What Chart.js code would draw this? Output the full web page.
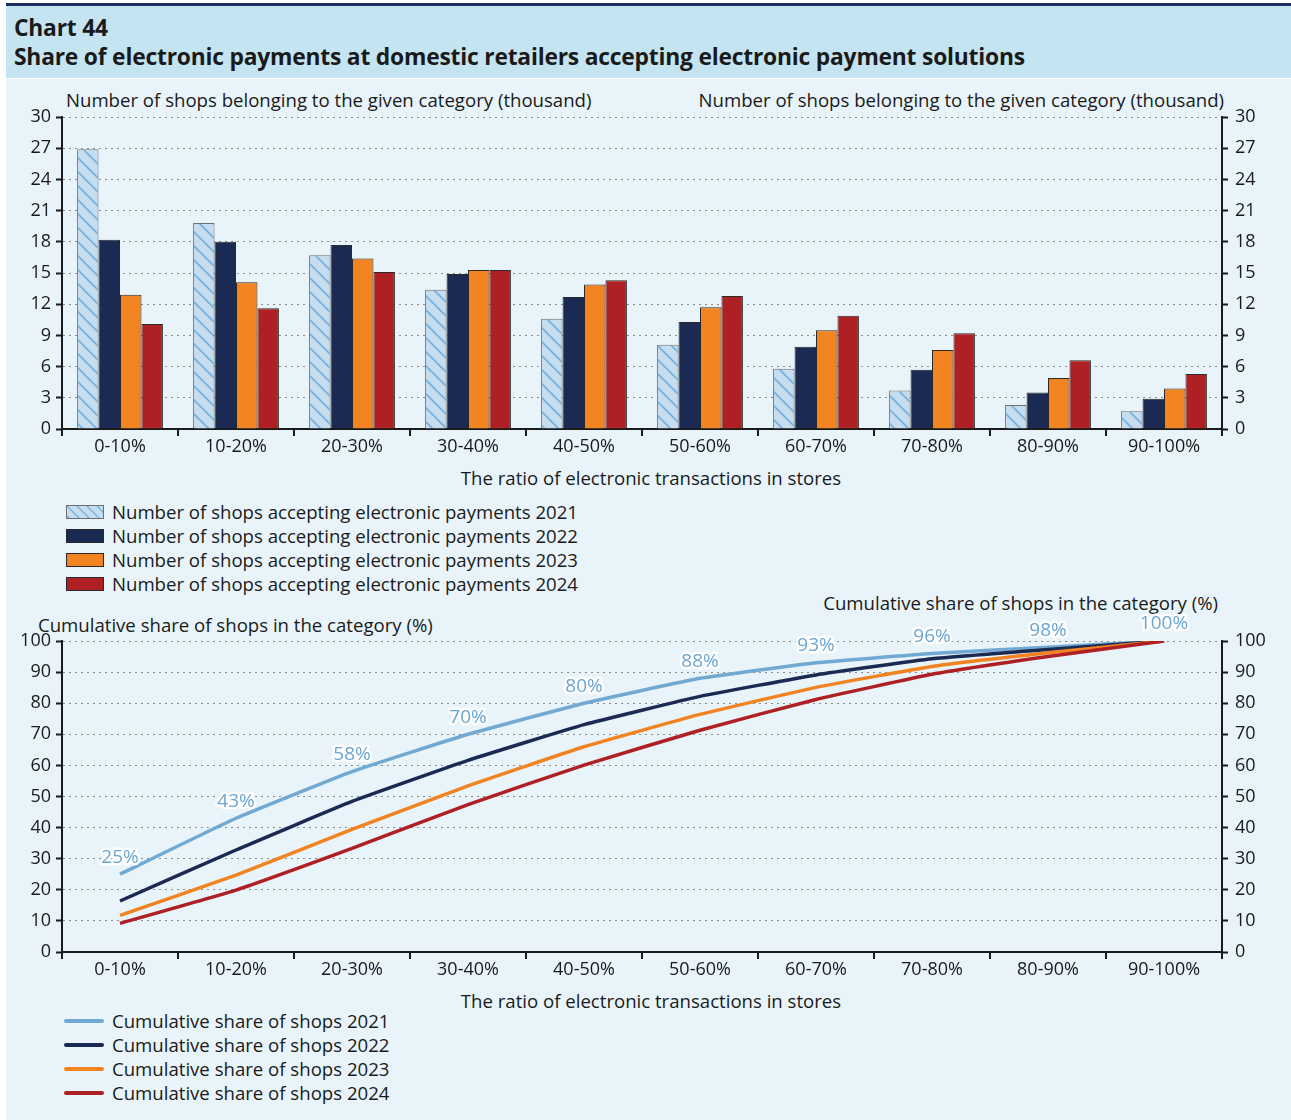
<!DOCTYPE html>
<html><head><meta charset="utf-8">
<script src="https://cdn.jsdelivr.net/npm/chart.js@4.4.1/dist/chart.umd.min.js"></script>
<style>
html,body{margin:0;padding:0;background:#fff;}
body{width:1291px;height:1120px;position:relative;overflow:hidden;font-family:'Open Sans',sans-serif;color:#1a1a1a;}
#topline{position:absolute;left:6px;top:3px;width:1285px;height:3px;background:#1c2f5e;}
#header{position:absolute;left:6px;top:6px;width:1285px;height:72px;background:#c5e4f2;}
#body{position:absolute;left:6px;top:79px;width:1285px;height:1041px;background:#e8f4fa;}
.t{position:absolute;white-space:nowrap;line-height:24px;height:24px;font-size:18.6px;}
.h{font-weight:bold;font-size:22.8px;color:#1a1a1a;letter-spacing:-0.2px;}
canvas.c{position:absolute;left:0;}
.lg{position:absolute;}
</style></head>
<body>
<div id="topline"></div><div id="header"></div><div id="body"></div>
<div class="t h" style="left:14px;top:16px;">Chart 44</div>
<div class="t h" style="left:14px;top:45px;">Share of electronic payments at domestic retailers accepting electronic payment solutions</div>

<div class="t" style="left:66px;top:88px;">Number of shops belonging to the given category (thousand)</div>
<div class="t" style="right:67px;top:88px;">Number of shops belonging to the given category (thousand)</div>
<div class="t" style="left:0;width:1302px;text-align:center;top:466px;">The ratio of electronic transactions in stores</div>

<div class="t" style="left:38px;top:613px;">Cumulative share of shops in the category (%)</div>
<div class="t" style="right:73px;top:591px;">Cumulative share of shops in the category (%)</div>
<div class="t" style="left:0;width:1302px;text-align:center;top:989px;">The ratio of electronic transactions in stores</div>

<div id="legend1"></div>
<div id="legend2"></div>

<canvas id="c1" class="c" width="1291" height="420" style="top:80px;"></canvas>
<canvas id="c2" class="c" width="1291" height="430" style="top:590px;"></canvas>

<script>
// ---- data ----
const categories = ['0-10%','10-20%','20-30%','30-40%','40-50%','50-60%','60-70%','70-80%','80-90%','90-100%'];
const shops2021 = [26.9, 19.8, 16.7, 13.4, 10.6, 8.1, 5.8, 3.7, 2.3, 1.7];
const shops2022 = [18.2, 18.0, 17.7, 14.9, 12.7, 10.3, 7.9, 5.7, 3.5, 2.9];
const shops2023 = [12.9, 14.1, 16.4, 15.3, 13.9, 11.7, 9.5, 7.6, 4.9, 3.9];
const shops2024 = [10.1, 11.6, 15.1, 15.3, 14.3, 12.8, 10.9, 9.2, 6.6, 5.3];
const cum2021 = [25, 43, 58, 70, 80, 88, 93, 96, 98, 100];
const cum2022 = [16.4, 32.8, 48.4, 61.6, 73.1, 82.2, 89.1, 94.3, 97.3, 100];
const cum2023 = [11.8, 24.7, 39.4, 53.4, 66.0, 76.4, 85.1, 91.8, 96.2, 100];
const cum2024 = [9.2, 19.9, 33.3, 47.4, 60.1, 71.3, 81.2, 89.3, 95.0, 100];
const barLabels = ['Number of shops accepting electronic payments 2021','Number of shops accepting electronic payments 2022','Number of shops accepting electronic payments 2023','Number of shops accepting electronic payments 2024'];
const lineLabels = ['Cumulative share of shops 2021','Cumulative share of shops 2022','Cumulative share of shops 2023','Cumulative share of shops 2024'];

// ---- styles ----
const FONT = "'Open Sans'";
const TXT = '#1a1a1a';
const C_NAVY = '#1b2a52', C_ORANGE = '#f28321', C_RED = '#ae2024', C_LBLUE = '#72a9d2';

function makeHatch(g, size, lw){
  const p = document.createElement('canvas'); p.width = size; p.height = size;
  const h = p.getContext('2d');
  h.fillStyle = '#c6dcef'; h.fillRect(0,0,size,size);
  h.strokeStyle = '#74b0db'; h.lineWidth = lw;
  h.beginPath();
  h.moveTo(-2,-2); h.lineTo(size+2,size+2);
  h.moveTo(-2,size-2); h.lineTo(2,size+2);
  h.moveTo(size-2,-2); h.lineTo(size+2,2);
  h.stroke();
  return (g || h).createPattern(p,'repeat');
}
const hatch = makeHatch(null, 14, 1.6);

// ---- legends (HTML) ----
const barColors = [null, C_NAVY, C_ORANGE, C_RED];
const lg1 = document.getElementById('legend1');
barLabels.forEach((lab,i)=>{
  const cy = 512 + 24*i;
  const cv = document.createElement('canvas'); cv.width = 38; cv.height = 14;
  cv.className='lg'; cv.style.left='66px'; cv.style.top=(cy-7)+'px';
  const g = cv.getContext('2d');
  g.fillStyle = i===0 ? makeHatch(g, 10, 1.3) : barColors[i];
  g.fillRect(0,0,38,14);
  g.strokeStyle = i===0 ? '#6f6f6f' : '#2a2a2a'; g.lineWidth=1;
  g.strokeRect(0.5,0.5,37,13);
  lg1.appendChild(cv);
  const d = document.createElement('div'); d.className='t'; d.textContent=lab;
  d.style.left='112px'; d.style.top=(cy-12)+'px'; lg1.appendChild(d);
});
const lineColors = [C_LBLUE, C_NAVY, C_ORANGE, C_RED];
const lg2 = document.getElementById('legend2');
lineLabels.forEach((lab,i)=>{
  const cy = 1021 + 24*i;
  const s = document.createElement('div'); s.className='lg';
  s.style.cssText = 'position:absolute;left:64px;width:40px;height:4px;border-radius:2px;top:'+(cy-2)+'px;background:'+lineColors[i]+';';
  lg2.appendChild(s);
  const d = document.createElement('div'); d.className='t'; d.textContent=lab;
  d.style.left='112px'; d.style.top=(cy-12)+'px'; lg2.appendChild(d);
});

// ---- axes ----
const tickFont = {family: FONT, size: 18};
function yAxis(pos, min, max, step, width, main){
  return {
    position: pos, min, max,
    ticks: {stepSize: step, font: tickFont, color: TXT, padding: pos==='left'?5:7},
    grid: {drawOnChartArea: main, color: '#8c8c8c', lineWidth: 1, tickColor: TXT, tickWidth: 2, tickLength: 6},
    border: {display: true, color: TXT, width: 2, dash: [2,4]},
    afterFit(s){ s.width = width; }
  };
}
function xAxis(h){
  return {
    offset: true,
    grid: {display: true, offset: true, drawOnChartArea: false, drawTicks: true, tickLength: 7, color: TXT, lineWidth: 2},
    border: {display: true, color: TXT, width: 2},
    ticks: {font: tickFont, color: TXT, padding: 0, maxRotation: 0, autoSkip: false},
    afterFit(s){ s.height = h; }
  };
}

// ---- bar chart ----
new Chart(document.getElementById('c1'), {
  type: 'bar',
  data: {
    labels: categories,
    datasets: [
      {label: barLabels[0], data: shops2021, backgroundColor: hatch, borderColor: '#6f6f6f', borderWidth: 1},
      {label: barLabels[1], data: shops2022, backgroundColor: C_NAVY, borderColor: '#2a2a2a', borderWidth: 1},
      {label: barLabels[2], data: shops2023, backgroundColor: C_ORANGE, borderColor: '#2a2a2a', borderWidth: 1},
      {label: barLabels[3], data: shops2024, backgroundColor: C_RED, borderColor: '#2a2a2a', borderWidth: 1}
    ]
  },
  options: {
    responsive: false, animation: false, devicePixelRatio: 1,
    layout: {padding: {top: 37, left: 0, right: 0, bottom: 0}},
    plugins: {legend: {display: false}, tooltip: {enabled: false}},
    datasets: {bar: {categoryPercentage: 0.74, barPercentage: 1}},
    scales: {
      x: xAxis(71),
      y: yAxis('left', 0, 30, 3, 62, true),
      y2: yAxis('right', 0, 30, 3, 69, false)
    }
  }
});

// ---- line chart ----
const pointLabels = {
  id: 'pointLabels',
  afterDatasetsDraw(chart){
    const meta = chart.getDatasetMeta(0);
    const ctx = chart.ctx;
    ctx.save();
    ctx.font = '19px ' + FONT;
    ctx.textAlign = 'center'; ctx.textBaseline = 'middle';
    ctx.lineWidth = 5; ctx.strokeStyle = '#ffffff'; ctx.lineJoin = 'round';
    ctx.fillStyle = '#6ba6d2';
    meta.data.forEach((pt, i) => {
      ctx.strokeText(Math.round(cum2021[i]) + '%', pt.x, pt.y - 17);
    });
    meta.data.forEach((pt, i) => {
      ctx.fillText(Math.round(cum2021[i]) + '%', pt.x, pt.y - 17);
    });
    ctx.restore();
  }
};

const lineDs = (label, data, color, order) => ({label, data, borderColor: color, backgroundColor: color, borderWidth: 3.5, pointRadius: 0, tension: 0.12, order, fill: false});
new Chart(document.getElementById('c2'), {
  type: 'line',
  data: {
    labels: categories,
    datasets: [
      lineDs(lineLabels[0], cum2021, C_LBLUE, 3),
      lineDs(lineLabels[1], cum2022, C_NAVY, 2),
      lineDs(lineLabels[2], cum2023, C_ORANGE, 1),
      lineDs(lineLabels[3], cum2024, C_RED, 0)
    ]
  },
  options: {
    responsive: false, animation: false, devicePixelRatio: 1,
    layout: {padding: {top: 51, left: 0, right: 0, bottom: 0}},
    plugins: {legend: {display: false}, tooltip: {enabled: false}},
    scales: {
      x: xAxis(68),
      y: yAxis('left', 0, 100, 10, 62, true),
      y2: yAxis('right', 0, 100, 10, 69, false)
    }
  },
  plugins: [pointLabels]
});
</script>
</body></html>
